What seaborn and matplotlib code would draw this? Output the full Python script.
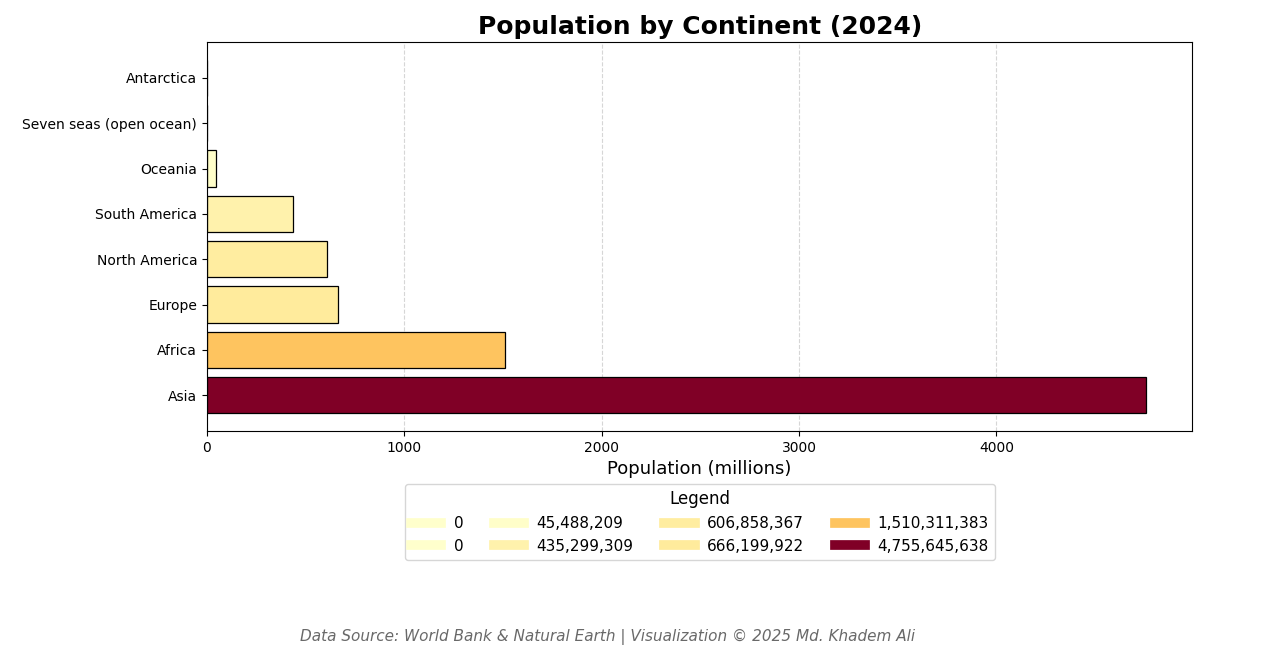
import numpy as np
import pandas as pd
import matplotlib
matplotlib.use('Agg')
import matplotlib.pyplot as plt
import matplotlib.colors as mcolors
from matplotlib.lines import Line2D
import seaborn as sns

# 대륙별 인구 (2024)
continents = ['Antarctica', 'Seven seas (open ocean)', 'Oceania', 'South America',
              'North America', 'Europe', 'Africa', 'Asia']
population = [0, 0, 45488209, 435299309, 606858367, 666199922, 1510311383, 4755645638]

df = pd.DataFrame({'continent': continents, 'pop': population})
df['pop_m'] = df['pop'] / 1e6

norm = mcolors.Normalize(vmin=0, vmax=max(population))
cmap = plt.cm.YlOrRd
colors = [mcolors.to_hex(cmap(norm(v))) for v in population]
palette = dict(zip(continents, colors))

fig = plt.figure(figsize=(12.85, 6.59), dpi=100)
ax = fig.add_axes([0.161, 0.346, 0.767, 0.590])

sns.barplot(data=df, y='continent', x='pop_m', hue='continent', palette=palette,
            order=continents, hue_order=continents, orient='h', legend=False,
            edgecolor='black', linewidth=0.9, width=0.8, saturation=1, ax=ax)

ax.set_ylim(7.79, -0.79)
ax.set_xlim(0, max(population) / 1e6 * 1.05)
ax.set_ylabel('')
ax.set_xlabel('Population (millions)', fontsize=13)
ax.set_title('Population by Continent (2024)', fontsize=18, fontweight='bold')
ax.grid(axis='x', linestyle='--', alpha=0.6, color='#bbbbbb')
ax.set_axisbelow(True)

handles = [Line2D([0], [0], color=c, lw=7) for c in colors]
labels = [f'{v:,}' for v in population]
ax.legend(handles, labels, title='Legend', ncol=4, loc='upper center',
          bbox_to_anchor=(0.5, -0.117), fontsize=11, title_fontsize=12)

fig.text(0.4727, 0.028, 'Data Source: World Bank & Natural Earth | Visualization © 2025 Md. Khadem Ali',
         ha='center', fontsize=11, style='italic', color='dimgray')

fig.savefig('out.png', dpi=100)
